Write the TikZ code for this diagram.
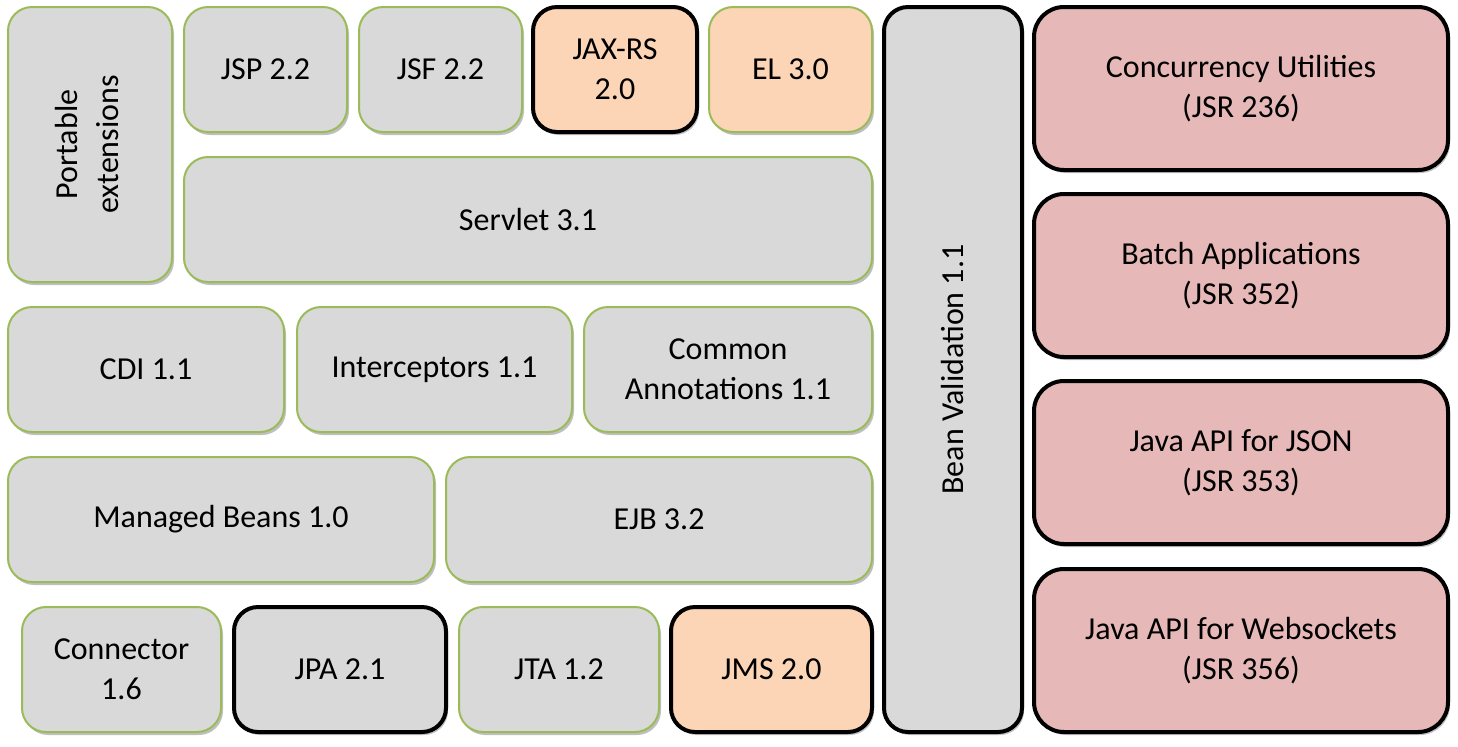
\documentclass[tikz,border=0pt]{standalone}
\usepackage{fontspec}
\setmainfont{Carlito}
\usetikzlibrary{shadows}
\definecolor{BoxGray}{HTML}{D9D9D9}
\definecolor{BoxGreen}{HTML}{9BBB59}
\definecolor{BoxPeach}{HTML}{FBD5B5}
\definecolor{BoxPink}{HTML}{E6B9B8}
\begin{document}
\begin{tikzpicture}[x=0.5pt,y=-0.5pt]
  \tikzset{BoxStyle/.style = {shape          = rectangle,
                              rounded corners = 12pt,
                              align          = center,
                              text           = black,
                              inner sep      = 2pt,
                              font           = \fontsize{16}{20}\selectfont,
                              drop shadow    = {shadow xshift=1pt,
                                                shadow yshift=-1.5pt,
                                                fill=black,opacity=0.25}}}
  \tikzset{BoxStyleGreen/.style = {BoxStyle,
                                   draw       = BoxGreen,
                                   line width = 1pt}}
  \tikzset{BoxStyleBlack/.style = {BoxStyle,
                                   draw       = black,
                                   line width = 2pt}}
  \tikzset{SmallBox/.style = {minimum height = 62.5pt}}

\useasboundingbox (0,0) rectangle (1458,746);

% top left block
\node[BoxStyleGreen, fill=BoxGray, minimum width=82pt, minimum height=137.5pt] (Portable) at (90,144.5)
  {\rotatebox{90}{\begin{tabular}{c}Portable\\extensions\end{tabular}}};
\node[BoxStyleGreen, SmallBox, fill=BoxGray, minimum width=81.5pt] (JSP) at (265.5,69.5) {JSP 2.2};
\node[BoxStyleGreen, SmallBox, fill=BoxGray, minimum width=81.5pt] (JSF) at (440.5,69.5) {JSF 2.2};
\node[BoxStyleBlack, SmallBox, fill=BoxPeach, minimum width=82pt] (JAXRS) at (615,69.5) {JAX-RS\\2.0};
\node[BoxStyleGreen, SmallBox, fill=BoxPeach, minimum width=81.5pt] (EL) at (790.5,69.5) {EL 3.0};
\node[BoxStyleGreen, SmallBox, fill=BoxGray, minimum width=344pt] (Servlet) at (528,219.5) {Servlet 3.1};

% middle rows
\node[BoxStyleGreen, SmallBox, fill=BoxGray, minimum width=138pt] (CDI) at (146,369.5) {CDI 1.1};
\node[BoxStyleGreen, SmallBox, fill=BoxGray, minimum width=137.5pt] (Interceptors) at (434.5,369.5) {Interceptors 1.1};
\node[BoxStyleGreen, SmallBox, fill=BoxGray, minimum width=144pt] (Annotations) at (728,369.5) {Common\\Annotations 1.1};
\node[BoxStyleGreen, SmallBox, fill=BoxGray, minimum width=213pt] (Managed) at (221,519.5) {Managed Beans 1.0};
\node[BoxStyleGreen, SmallBox, fill=BoxGray, minimum width=213pt] (EJB) at (659,519.5) {EJB 3.2};

% bottom row
\node[BoxStyleGreen, SmallBox, fill=BoxGray, minimum width=99.5pt] (Connector) at (121.5,669.5) {Connector\\1.6};
\node[BoxStyleBlack, SmallBox, fill=BoxGray, minimum width=106pt] (JPA) at (340,669.5) {JPA 2.1};
\node[BoxStyleGreen, SmallBox, fill=BoxGray, minimum width=100pt] (JTA) at (559,669.5) {JTA 1.2};
\node[BoxStyleBlack, SmallBox, fill=BoxPeach, minimum width=100.5pt] (JMS) at (771.5,669.5) {JMS 2.0};

% bean validation column
\node[BoxStyleBlack, fill=BoxGray, minimum width=69pt, minimum height=362.5pt] (Bean) at (953,369.5)
  {\rotatebox{90}{Bean Validation 1.1}};

% new specifications
\tikzset{NewBox/.style = {BoxStyleBlack, fill=BoxPink, rounded corners=15pt,
                          minimum width=207pt, minimum height=81.5pt}}
\node[NewBox] (Concurrency) at (1241,88.5)  {Concurrency Utilities\\(JSR 236)};
\node[NewBox] (Batch)       at (1241,275.5) {Batch Applications\\(JSR 352)};
\node[NewBox] (JSON)        at (1241,462.5) {Java API for JSON\\(JSR 353)};
\node[NewBox] (Websockets)  at (1241,650.5) {Java API for Websockets\\(JSR 356)};

\end{tikzpicture}
\end{document}
